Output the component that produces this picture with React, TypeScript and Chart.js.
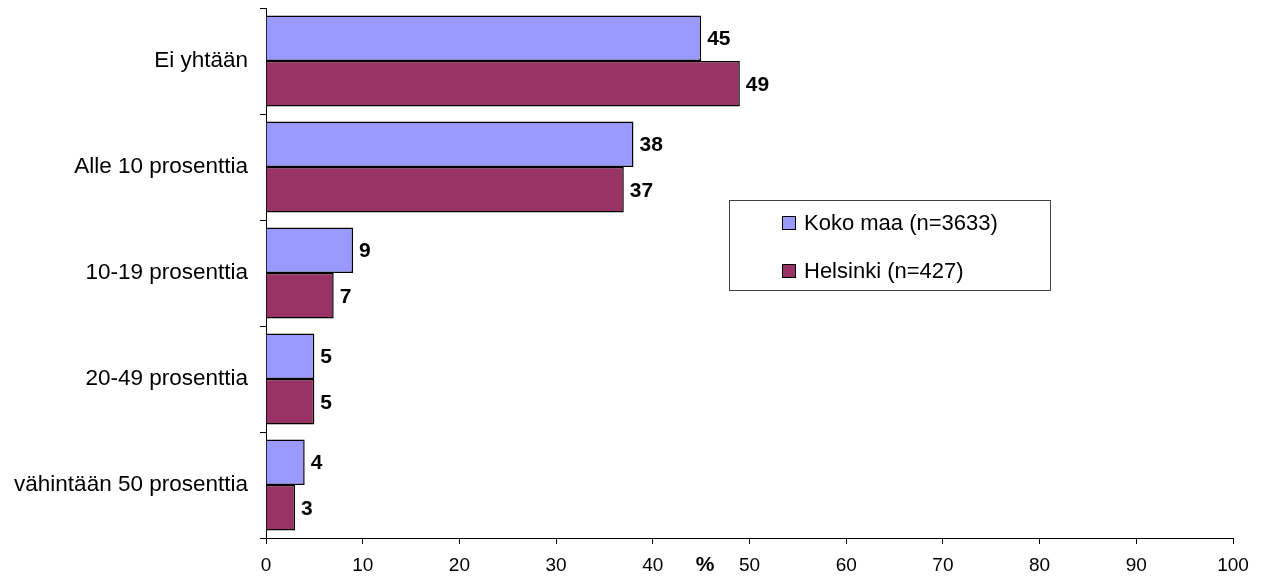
import React, { useEffect, useRef } from "react";
import { Chart, registerables } from "chart.js";

Chart.register(...registerables);

const categories = [
  "Ei yhtään",
  "Alle 10 prosenttia",
  "10-19 prosenttia",
  "20-49 prosenttia",
  "vähintään 50 prosenttia",
];
const kokoMaa = [45, 38, 9, 5, 4];
const helsinki = [49, 37, 7, 5, 3];
const seriesLabels = ["Koko maa (n=3633)", "Helsinki (n=427)"];
const seriesColors = ["#9999FF", "#993366"];
const xTicks = [0, 10, 20, 30, 40, 50, 60, 70, 80, 90, 100];

const FONT = "'Liberation Sans', Arial, sans-serif";

const labelPlugin = {
  id: "valueLabels",
  afterDatasetsDraw(chart: any) {
    const ctx = chart.ctx;
    ctx.save();
    ctx.font = `bold 21px ${FONT}`;
    ctx.fillStyle = "#000";
    ctx.textAlign = "left";
    ctx.textBaseline = "middle";
    chart.data.datasets.forEach((ds: any, i: number) => {
      const meta = chart.getDatasetMeta(i);
      meta.data.forEach((bar: any, j: number) => {
        ctx.fillText(String(ds.data[j]), bar.x + 6, bar.y + 1);
      });
    });
    ctx.restore();
  },
};

const extrasPlugin = {
  id: "extras",
  afterDraw(chart: any) {
    const ctx = chart.ctx;
    const xs = chart.scales.x;
    const ys = chart.scales.y;
    ctx.save();
    // axis title "%"
    ctx.font = `bold 21px ${FONT}`;
    ctx.fillStyle = "#000";
    ctx.textAlign = "center";
    ctx.textBaseline = "middle";
    ctx.fillText("%", xs.getPixelForValue(45.4), xs.top + 27);
    // legend box
    const bx = Math.round(xs.getPixelForValue(47.9));
    const by = Math.round(ys.top + 192);
    const bw = 321;
    const bh = 90;
    ctx.fillStyle = "#fff";
    ctx.fillRect(bx, by, bw, bh);
    ctx.strokeStyle = "#404040";
    ctx.lineWidth = 1;
    ctx.strokeRect(bx + 0.5, by + 0.5, bw, bh);
    ctx.font = `22px ${FONT}`;
    ctx.textAlign = "left";
    seriesLabels.forEach((lab, i) => {
      const cy = by + 23 + i * 48;
      const sx = bx + 53.5;
      ctx.fillStyle = seriesColors[i];
      ctx.fillRect(sx, cy - 6.5, 13, 13);
      ctx.strokeStyle = "#000";
      ctx.strokeRect(sx, cy - 6.5, 13, 13);
      ctx.fillStyle = "#000";
      ctx.fillText(lab, bx + 75, cy + 1);
    });
    ctx.restore();
  },
};

export default function App() {
  const ref = useRef<HTMLCanvasElement>(null);
  useEffect(() => {
    document.body.style.margin = "0";
    const chart = new Chart(ref.current!, {
      type: "bar",
      data: {
        labels: categories,
        datasets: [
          {
            label: seriesLabels[0],
            data: kokoMaa,
            backgroundColor: seriesColors[0],
            borderColor: "#000",
            borderWidth: 1.5,
            categoryPercentage: 0.86,
            barPercentage: 1,
          },
          {
            label: seriesLabels[1],
            data: helsinki,
            backgroundColor: seriesColors[1],
            borderColor: "#000",
            borderWidth: 1.5,
            categoryPercentage: 0.86,
            barPercentage: 1,
          },
        ],
      },
      options: {
        indexAxis: "y",
        animation: false,
        responsive: false,
        maintainAspectRatio: false,
        layout: { padding: { top: 8, right: 29, left: 0, bottom: 0 } },
        plugins: {
          legend: { display: false },
          tooltip: { enabled: false },
        },
        scales: {
          x: {
            min: 0,
            max: 100,
            afterBuildTicks: (s: any) => {
              s.ticks = xTicks.map((v) => ({ value: v }));
            },
            afterFit: (s: any) => {
              s.height = 42;
              s.paddingLeft = 0;
              s.paddingRight = 0;
            },
            grid: {
              drawOnChartArea: false,
              drawTicks: true,
              tickLength: 6,
              color: "#000",
            },
            border: { color: "#000", width: 1 },
            ticks: {
              color: "#000",
              font: { family: FONT, size: 19 },
              padding: 10,
              maxRotation: 0,
            },
          },
          y: {
            afterFit: (s: any) => {
              s.width = 266;
              s.paddingTop = 0;
              s.paddingBottom = 0;
            },
            grid: {
              drawOnChartArea: false,
              drawTicks: true,
              tickLength: 6,
              color: "#000",
              offset: true,
            },
            border: { color: "#000", width: 1 },
            ticks: {
              color: "#000",
              font: { family: FONT, size: 22.5 },
              padding: 12,
            },
          },
        },
      },
      plugins: [labelPlugin, extrasPlugin],
    });
    return () => chart.destroy();
  }, []);
  return (
    <div style={{ position: "absolute", left: 0, top: 0, width: 1262, height: 580 }}>
      <canvas ref={ref} width={1262} height={580} style={{ width: 1262, height: 580 }} />
    </div>
  );
}
